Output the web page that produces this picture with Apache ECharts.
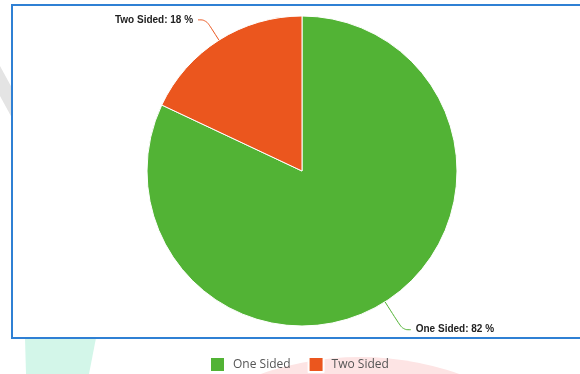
<!DOCTYPE html>
<html>
<head>
<meta charset="utf-8">
<script src="https://cdn.jsdelivr.net/npm/echarts@6/dist/echarts.min.js"></script>
<style>
  html, body { margin: 0; padding: 0; background: #ffffff; }
  #chart { width: 580px; height: 374px; }
</style>
</head>
<body>
<div id="chart"></div>
<script>
// Share of one-sided vs two-sided items (percent)
const categories = ['One Sided', 'Two Sided'];
const shares = [82, 18];
const sliceColors = ['#52b335', '#eb561e'];
// label connector lengths per slice
const connectorLengths = [33, 24];

const chart = echarts.init(document.getElementById('chart'), null, { renderer: 'canvas' });

chart.setOption({
  animation: false,
  backgroundColor: '#ffffff',
  color: sliceColors,
  graphic: [
    // soft background shapes behind the panel
    {
      type: 'polygon', z: -10, silent: true,
      shape: { points: [[25, 338], [96, 338], [89, 374], [26, 374]] },
      style: { fill: '#d3f6e9' }
    },
    {
      type: 'circle', z: -10, silent: true,
      shape: { cx: 360, cy: 655, r: 298 },
      style: { fill: '#fde4e4' }
    },
    {
      type: 'polygon', z: -10, silent: true,
      shape: { points: [[0, 66], [12, 88], [12, 118], [0, 96]] },
      style: { fill: '#e4e4e4' }
    },
    // white chart panel with blue frame
    {
      type: 'rect', z: -5, silent: true,
      shape: { x: 12, y: 5, width: 590, height: 333 },
      style: { fill: '#ffffff', stroke: '#2f80d4', lineWidth: 2 }
    }
  ],
  legend: {
    bottom: -4,
    left: 204,
    icon: 'rect',
    itemWidth: 15,
    itemHeight: 15,
    itemGap: 17,
    textStyle: {
      color: '#555555', fontSize: 12, fontFamily: 'Open Sans, sans-serif',
      padding: [0, 0, 0, 3]
    },
    data: categories
  },
  series: [{
    type: 'pie',
    center: [302, 171],
    radius: 155,
    startAngle: 90,
    clockwise: true,
    avoidLabelOverlap: false,
    itemStyle: { borderColor: '#ffffff', borderWidth: 1 },
    label: {
      show: true,
      position: 'outside',
      formatter: '{b}: {c} %',
      color: '#222222',
      fontSize: 10,
      fontWeight: 'bold',
      fontFamily: 'Liberation Sans, Arial, sans-serif'
    },
    labelLine: {
      show: true,
      length2: 8,
      smooth: 0.4,
      lineStyle: { width: 1 }
    },
    emphasis: { disabled: true },
    data: categories.map((name, i) => ({
      name: name,
      value: shares[i],
      labelLine: { length: connectorLengths[i] }
    }))
  }]
});
</script>
</body>
</html>
